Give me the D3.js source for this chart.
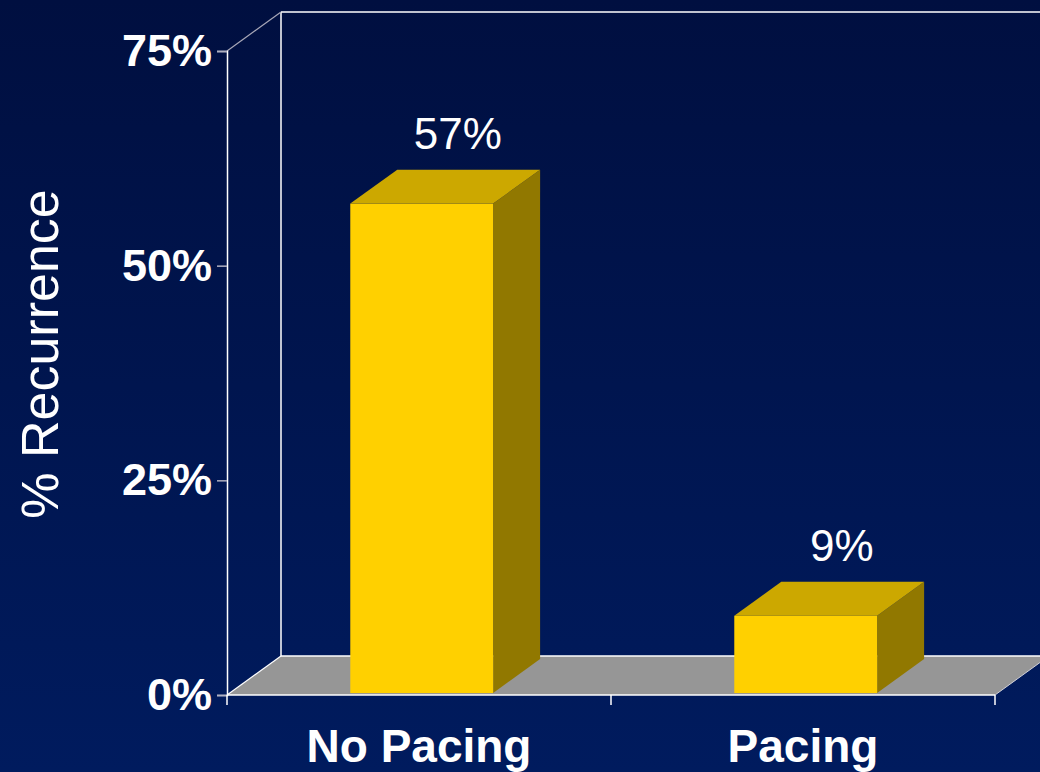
<!DOCTYPE html>
<html>
<head>
<meta charset="utf-8">
<script src="https://cdn.jsdelivr.net/npm/d3@7"></script>
<style>
  html, body { margin: 0; padding: 0; background: #001040; }
  svg { display: block; font-family: "Liberation Sans", Arial, sans-serif; }
</style>
</head>
<body>
<svg id="chart" width="1040" height="772"></svg>
<script>
// data
const categories = ["No Pacing", "Pacing"];
const recurrence = [57, 9];
const yTicks = [0, 25, 50, 75];

const WIDTH = 1040;
const HEIGHT = 772;
const DEPTH_X = 54;   // how far the back wall is pushed right
const DEPTH_Y = -39;  // and up
const BAR_FRONT = 0.05; // depth where the bar front sits (fraction of floor depth)
const BAR_BACK = 0.92;  // depth where the bar back sits
const BAR_FRAC = 0.372; // bar width as fraction of category band

const svg = d3.select("#chart");

// background gradient
const defs = svg.append("defs");
const grad = defs.append("linearGradient")
  .attr("id", "bg").attr("x1", 0).attr("y1", 0).attr("x2", 0).attr("y2", 1);
grad.append("stop").attr("offset", "0%").attr("stop-color", "#000f40");
grad.append("stop").attr("offset", "100%").attr("stop-color", "#001b5e");
svg.append("rect").attr("width", WIDTH).attr("height", HEIGHT).attr("fill", "url(#bg)");

// scales
const x = d3.scaleBand().domain(categories).range([227, 995]).padding(0);
const y = d3.scaleLinear().domain([0, 75]).range([695, 51]);

const x0 = x.range()[0], x1 = x.range()[1];
const yBase = y(0), yTop = y(75);

// back wall: left edge and top edge
svg.append("line")
  .attr("x1", x0 + DEPTH_X).attr("y1", yTop + DEPTH_Y)
  .attr("x2", x0 + DEPTH_X).attr("y2", yBase + DEPTH_Y)
  .attr("stroke", "#ffffff").attr("stroke-width", 1.5);
svg.append("line")
  .attr("x1", x0 + DEPTH_X).attr("y1", yTop + DEPTH_Y)
  .attr("x2", WIDTH + 20).attr("y2", yTop + DEPTH_Y)
  .attr("stroke", "#ffffff").attr("stroke-width", 1.5);
// side wall top diagonal
svg.append("line")
  .attr("x1", x0).attr("y1", yTop)
  .attr("x2", x0 + DEPTH_X).attr("y2", yTop + DEPTH_Y)
  .attr("stroke", "#a8a8b8").attr("stroke-width", 1.2);

// floor
const floorPts = [
  [x0, yBase], [x1, yBase],
  [x1 + DEPTH_X, yBase + DEPTH_Y], [x0 + DEPTH_X, yBase + DEPTH_Y]
];
svg.append("polygon")
  .attr("points", floorPts.map((p) => p.join(",")).join(" "))
  .attr("fill", "#969696");
svg.append("line")
  .attr("x1", x0 + DEPTH_X).attr("y1", yBase + DEPTH_Y)
  .attr("x2", x1 + DEPTH_X).attr("y2", yBase + DEPTH_Y)
  .attr("stroke", "#ffffff").attr("stroke-width", 1.5);
svg.append("line")
  .attr("x1", x0).attr("y1", yBase)
  .attr("x2", x0 + DEPTH_X).attr("y2", yBase + DEPTH_Y)
  .attr("stroke", "#ffffff").attr("stroke-width", 1.2);
svg.append("line")
  .attr("x1", x1).attr("y1", yBase)
  .attr("x2", x1 + DEPTH_X).attr("y2", yBase + DEPTH_Y)
  .attr("stroke", "#d0d0d8").attr("stroke-width", 1);

// bars (front, top, side faces)
const bw = x.bandwidth() * BAR_FRAC;
const fx = BAR_FRONT * DEPTH_X, fy = BAR_FRONT * DEPTH_Y;
const bx = (BAR_BACK - BAR_FRONT) * DEPTH_X, by = (BAR_BACK - BAR_FRONT) * DEPTH_Y;

const bars = svg.append("g").selectAll("g")
  .data(categories.map((c, i) => ({ cat: c, v: recurrence[i] })))
  .enter().append("g");

bars.each(function (d) {
  const g = d3.select(this);
  const left = x(d.cat) + x.bandwidth() / 2 - bw / 2 + fx;
  const right = left + bw;
  const top = y(d.v) + fy;
  const bottom = yBase + fy;
  // side face
  g.append("polygon")
    .attr("points", [[right, top], [right + bx, top + by], [right + bx, bottom + by], [right, bottom]]
      .map((p) => p.join(",")).join(" "))
    .attr("fill", "#917800");
  // top face
  g.append("polygon")
    .attr("points", [[left, top], [left + bx, top + by], [right + bx, top + by], [right, top]]
      .map((p) => p.join(",")).join(" "))
    .attr("fill", "#cca800");
  // front face
  g.append("rect")
    .attr("x", left).attr("y", top)
    .attr("width", bw).attr("height", bottom - top)
    .attr("fill", "#ffd000");
});

// value labels above the bars
bars.append("text")
  .attr("x", (d) => x(d.cat) + x.bandwidth() / 2 + DEPTH_X * 0.72)
  .attr("y", (d) => y(d.v) + DEPTH_Y - 18)
  .attr("text-anchor", "middle")
  .attr("fill", "#ffffff")
  .style("font-size", "44px")
  .text((d) => d.v + "%");

// front axes
const yAxis = d3.axisLeft(y).tickValues(yTicks).tickSize(10).tickPadding(5)
  .tickFormat((d) => d + "%");
const gy = svg.append("g").attr("transform", `translate(${x0},0)`).call(yAxis);
gy.select(".domain").attr("stroke", "#ffffff").attr("stroke-width", 1.5);
gy.selectAll(".tick line").attr("stroke", "#b0b0c0").attr("stroke-width", 1.5);
gy.selectAll(".tick text")
  .attr("fill", "#ffffff")
  .style("font-size", "45px")
  .style("font-weight", "bold")
  .style("font-family", "'Liberation Sans', Arial, sans-serif");

const gx = svg.append("g").attr("transform", `translate(0,${yBase})`);
gx.append("line")
  .attr("x1", x0).attr("x2", x1).attr("y1", 0).attr("y2", 0)
  .attr("stroke", "#ffffff").attr("stroke-width", 1.5);
gx.selectAll("line.tick")
  .data([x0, ...categories.map((c) => x(c) + x.bandwidth())])
  .enter().append("line")
  .attr("class", "tick")
  .attr("x1", (d) => d).attr("x2", (d) => d)
  .attr("y1", 0).attr("y2", 10)
  .attr("stroke", "#ffffff").attr("stroke-width", 1.5);
gx.selectAll("text")
  .data(categories)
  .enter().append("text")
  .attr("x", (d) => x(d) + x.bandwidth() / 2)
  .attr("y", 67)
  .attr("text-anchor", "middle")
  .attr("fill", "#ffffff")
  .style("font-size", "46px")
  .style("font-weight", "bold")
  .text((d) => d);

// y axis title
svg.append("text")
  .attr("transform", "translate(58,354) rotate(-90)")
  .attr("text-anchor", "middle")
  .attr("fill", "#ffffff")
  .style("font-size", "52px")
  .text("% Recurrence");
</script>
</body>
</html>
